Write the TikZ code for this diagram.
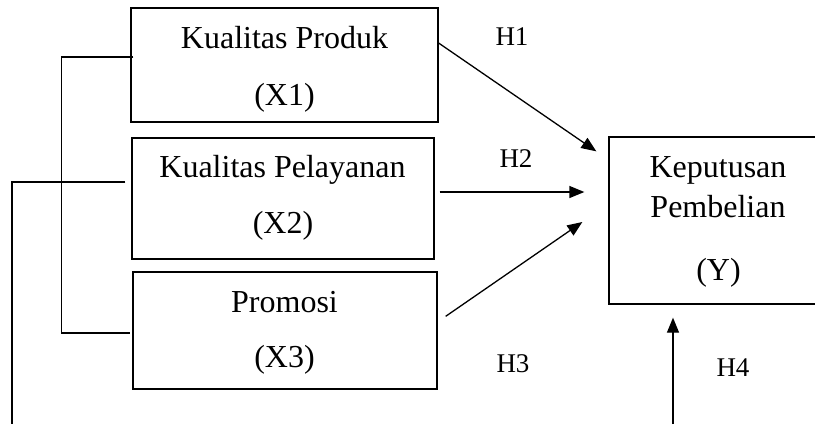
\documentclass[tikz,border=0pt]{standalone}
\usepackage{fontspec}
\setmainfont{Liberation Serif}
\usetikzlibrary{calc,arrows.meta}
\begin{document}
\begin{tikzpicture}[x=1pt,y=-1pt,
  box/.style={draw,line width=1.3pt,inner sep=0pt},
  txt/.style={anchor=base,inner sep=0pt,font=\fontsize{32}{38}\selectfont},
  hlab/.style={anchor=base,inner sep=0pt,font=\fontsize{27}{32}\selectfont},
  conn/.style={line width=1.3pt},
  arr/.style={line width=1.3pt,-{Triangle[length=15pt,width=12pt]}}]
\useasboundingbox (0,0) rectangle (815,424);
% boxes
\node[box,minimum width=307pt,minimum height=114pt] (x1) at (284.5,65) {};
\node[box,minimum width=302pt,minimum height=121pt] (x2) at (283,198.5) {};
\node[box,minimum width=304pt,minimum height=117pt] (x3) at (285,330.5) {};
\node[box,minimum width=208pt,minimum height=167pt] (y) at (713,220.5) {};
% texts
\node[txt] (t1a) at (284.5,48) {Kualitas Produk};
\node[txt] (t1b) at (284.5,105) {(X1)};
\node[txt] (t2a) at (282.5,177) {Kualitas Pelayanan};
\node[txt] (t2b) at (283,233) {(X2)};
\node[txt] (t3a) at (284.5,312) {Promosi};
\node[txt] (t3b) at (284.5,367) {(X3)};
\node[txt] (tya) at (718,177) {Keputusan};
\node[txt] (tyb) at (718,217) {Pembelian};
\node[txt] (tyc) at (718.5,280) {(Y)};
% hypothesis labels
\node[hlab] (h1) at (512,45) {H1};
\node[hlab] (h2) at (516,167) {H2};
\node[hlab] (h3) at (513,372) {H3};
\node[hlab] (h4) at (733,376) {H4};
% free ends
\coordinate (b2) at (12,424);
\coordinate (b4) at (673,424);
% arrows
\draw[arr] ($(x1.north east)+(-1,35)$) -- ($(y.north west)+(-12,15)$);
\draw[arr] ($(x2.east)+(5,-6.5)$) -- ($(y.west)+(-24,-28.5)$);
\draw[arr] ($(x3.north east)+(8,45)$) -- ($(y.west)+(-26,1.5)$);
\draw[arr] (b4) -- ($(y.south)+(-40,13)$);
% brackets
\draw[conn] ($(x1.west)+(3,-8)$) -- ++(-72,0) |- ($(x3.west)+(-2,2.5)$);
\draw[conn] ($(x2.west)+(-6,-16.5)$) -- (b2 |- 0,182) -- (b2);
\end{tikzpicture}
\end{document}
